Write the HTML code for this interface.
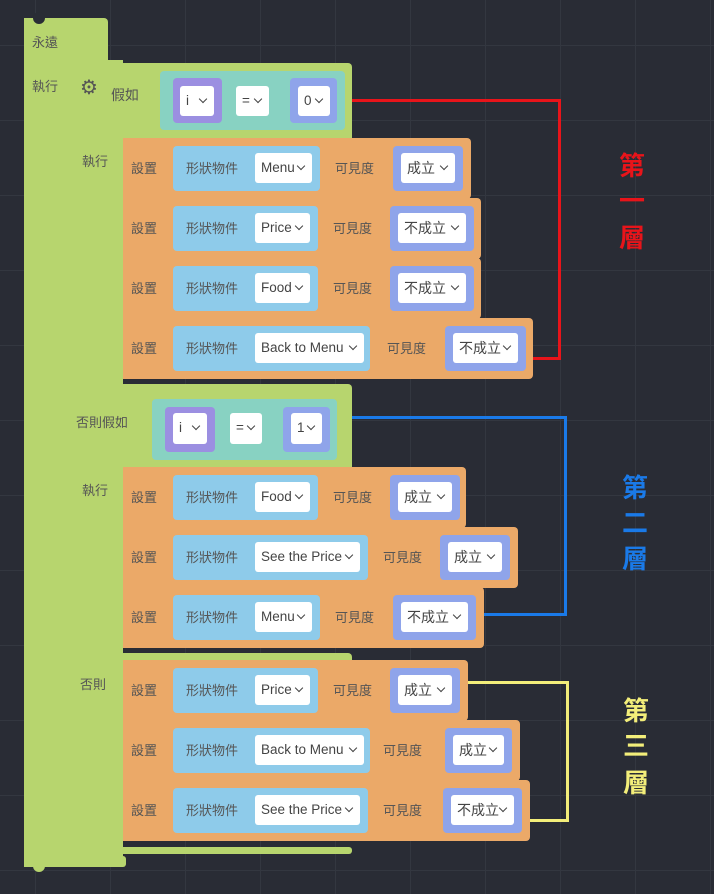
<!DOCTYPE html>
<html><head><meta charset="utf-8">
<style>
html,body{margin:0;padding:0}
body{width:714px;height:894px;position:relative;overflow:hidden;background:#292c35;
background-image:linear-gradient(#333740 1px,transparent 1px),linear-gradient(90deg,#333740 1px,transparent 1px);
background-size:75px 75px;background-position:35px 45px;
font-family:"Liberation Sans","Noto Sans CJK TC",sans-serif;font-size:13px;color:#555}
div{position:absolute;box-sizing:border-box}
.g{background:#b7d56e}
.o{background:#eba968;border-radius:0 4px 4px 0}
.t{background:#88d2c2;border-radius:4px}
.p{background:#9b8fe1;border-radius:4px}
.q{background:#8fa4ea;border-radius:4px}
.b{background:#8ecbea;border-radius:4px}
.w{background:#fff;border-radius:3px;color:#444;line-height:30px;padding-left:6px;font-size:13.5px;white-space:nowrap}
.w:after{content:"";position:absolute;right:8px;top:10px;width:5px;height:5px;border-right:1.5px solid #444;border-bottom:1.5px solid #444;transform:rotate(45deg)}
.l{white-space:nowrap;font-size:13px;color:#555;line-height:16px}
.r{font-size:26px;font-weight:bold;font-family:"Noto Sans CJK TC",sans-serif;width:40px;text-align:center;line-height:30px}
.ln{position:absolute;border-style:solid;border-width:3px 3px 0 0}
.nub{width:12px;height:12px;border-radius:50%;}
</style></head><body>

<!-- connectors (behind blocks) -->
<div class="ln" style="left:352px;top:99px;width:209px;height:261px;border-color:#e8141a"></div>
<div style="left:520px;top:357px;width:41px;height:3px;background:#e8141a"></div>
<div class="ln" style="left:352px;top:416px;width:215px;height:200px;border-color:#1a7ae8"></div>
<div style="left:470px;top:613px;width:97px;height:3px;background:#1a7ae8"></div>
<div class="ln" style="left:460px;top:681px;width:109px;height:141px;border-color:#f3ee7a"></div>
<div style="left:520px;top:819px;width:49px;height:3px;background:#f3ee7a"></div>

<!-- forever block spine -->
<div class="g" style="left:24px;top:18px;width:84px;height:50px;border-radius:0 4px 0 0"></div>
<div class="g" style="left:24px;top:60px;width:99px;height:806px"></div>
<div class="g" style="left:24px;top:856px;width:102px;height:11px;border-radius:0 3px 3px 0"></div>
<div class="nub" style="left:33px;top:12px;background:#292c35"></div>
<div class="nub" style="left:33px;top:860px;background:#b7d56e"></div>
<div class="l" style="left:32px;top:35px">永遠</div>
<div class="l" style="left:32px;top:79px">執行</div>

<!-- if header -->
<div class="g" style="left:74px;top:63px;width:278px;height:75px;border-radius:0 4px 0 0"></div>
<div class="g" style="left:74px;top:63px;width:49px;height:790px"></div>
<div style="left:80px;top:75px;font-size:20px;color:#555">⚙</div>
<div class="l" style="left:111px;top:87px;font-size:14px">假如</div>
<div class="t" style="left:160px;top:71px;width:185px;height:59px"></div>
<div class="p" style="left:173px;top:78px;width:49px;height:45px"></div>
<div class="w" style="left:180px;top:86px;width:34px;height:30px">i</div>
<div class="w" style="left:236px;top:86px;width:33px;height:30px">=</div>
<div class="q" style="left:290px;top:78px;width:47px;height:45px"></div>
<div class="w" style="left:298px;top:86px;width:32px;height:30px">0</div>
<div class="l" style="left:82px;top:154px">執行</div>

<!-- else-if header -->
<div class="g" style="left:74px;top:384px;width:278px;height:83px;border-radius:0 4px 0 0"></div>
<div class="l" style="left:76px;top:415px">否則假如</div>
<div class="t" style="left:152px;top:399px;width:185px;height:61px"></div>
<div class="p" style="left:165px;top:407px;width:50px;height:45px"></div>
<div class="w" style="left:173px;top:413px;width:34px;height:31px">i</div>
<div class="w" style="left:230px;top:413px;width:32px;height:31px">=</div>
<div class="q" style="left:283px;top:407px;width:47px;height:45px"></div>
<div class="w" style="left:291px;top:413px;width:31px;height:31px">1</div>
<div class="l" style="left:82px;top:483px">執行</div>

<!-- else bar -->
<div class="g" style="left:74px;top:653px;width:278px;height:10px;border-radius:0 4px 0 0"></div>
<div class="l" style="left:80px;top:677px">否則</div>
<!-- bottom bar -->
<div class="g" style="left:74px;top:847px;width:278px;height:7px;border-radius:0 3px 3px 0"></div>

<div id="rows"></div>

<div class="r" style="left:612px;top:150px;color:#e8141a">第</div>
<div class="r" style="left:612px;top:185px;color:#e8141a">一</div>
<div class="r" style="left:612px;top:222px;color:#e8141a">層</div>
<div class="r" style="left:615px;top:472px;color:#1a7ae8">第</div>
<div class="r" style="left:615px;top:507px;color:#1a7ae8">二</div>
<div class="r" style="left:615px;top:543px;color:#1a7ae8">層</div>
<div class="r" style="left:616px;top:695px;color:#f3ee7a">第</div>
<div class="r" style="left:616px;top:730px;color:#f3ee7a">三</div>
<div class="r" style="left:616px;top:767px;color:#f3ee7a">層</div>

<script>
var rows=[
[138,471,"Menu",320,312,335,393,463,"成立"],
[198,481,"Price",318,310,333,390,474,"不成立"],
[258,481,"Food",318,310,333,390,474,"不成立"],
[318,533,"Back to Menu",370,364,387,445,526,"不成立"],
[467,466,"Food",318,310,333,390,460,"成立"],
[527,518,"See the Price",368,360,383,440,510,"成立"],
[587,484,"Menu",320,312,335,393,476,"不成立"],
[660,468,"Price",318,310,333,390,460,"成立"],
[720,520,"Back to Menu",370,364,383,445,512,"成立"],
[780,530,"See the Price",368,360,383,443,522,"不成立"]];
var h="";
rows.forEach(function(r){
var y=r[0];
h+='<div class="o" style="left:123px;top:'+y+'px;width:'+(r[1]-123)+'px;height:61px"></div>';
h+='<div class="l" style="left:131px;top:'+(y+23)+'px">設置</div>';
h+='<div class="b" style="left:173px;top:'+(y+8)+'px;width:'+(r[3]-173)+'px;height:45px"></div>';
h+='<div class="l" style="left:186px;top:'+(y+23)+'px">形狀物件</div>';
h+='<div class="w" style="left:255px;top:'+(y+15)+'px;width:'+(r[4]-255)+'px;height:30px">'+r[2]+'</div>';
h+='<div class="l" style="left:'+r[5]+'px;top:'+(y+23)+'px">可見度</div>';
h+='<div class="q" style="left:'+r[6]+'px;top:'+(y+8)+'px;width:'+(r[7]-r[6])+'px;height:45px"></div>';
h+='<div class="w" style="left:'+(r[6]+8)+'px;top:'+(y+15)+'px;width:'+(r[7]-r[6]-16)+'px;height:30px;font-size:14px">'+r[8]+'</div>';
});
document.getElementById("rows").outerHTML=h;
</script>
</body></html>
